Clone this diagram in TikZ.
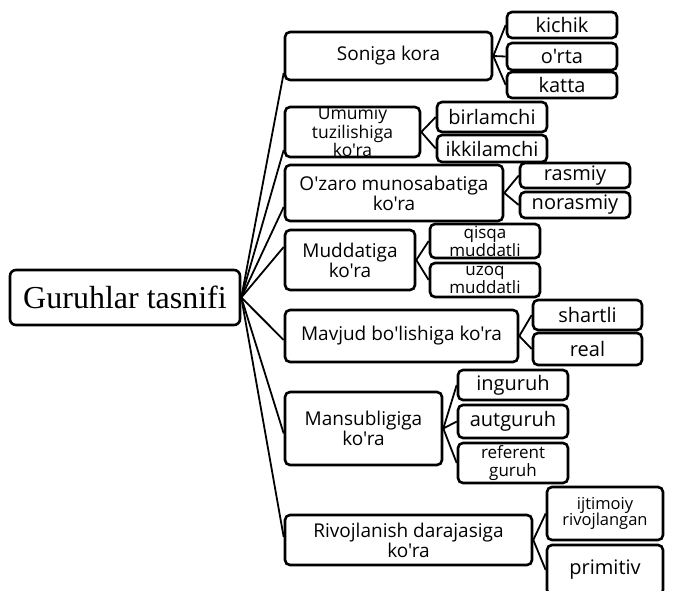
\documentclass[tikz,border=0pt]{standalone}
\usepackage{fontspec}
\setmainfont{Liberation Serif}
\newfontfamily\catfont{Open Sans}
\begin{document}
\begin{tikzpicture}[x=1pt,y=-1pt,
  bx/.style={draw, line width=2.6pt, rounded corners=5pt, inner sep=0pt, align=center,
    font=\catfont\fontsize{19}{18}\selectfont},
  kid/.style={font=\catfont\fontsize{20}{18}\selectfont},
  tight/.style={font=\catfont\fontsize{17}{16}\selectfont},
  rootbox/.style={draw, line width=2.6pt, rounded corners=6pt, inner sep=0pt,
    font=\fontsize{32}{36}\selectfont},
  ln/.style={line width=1.8pt}]
\useasboundingbox (0,0) rectangle (675,590);
\begin{scope}
\clip (0,0) rectangle (675,590);
% root
\node[rootbox, minimum width=230pt, minimum height=55pt] (root) at (125,297.5) {Guruhlar tasnifi};
% categories
\node[bx, font=\catfont\fontsize{17.5}{15.5}\selectfont, minimum width=135pt, minimum height=50pt] (s2) at (352.5,132) {Umumiy\\tuzilishiga\\ko'ra};
\node[bx, minimum width=207pt, minimum height=48pt] (s1) at (388.5,56) {Soniga kora};
\node[bx, minimum width=218pt, minimum height=56pt] (s3) at (394,193) {O'zaro munosabatiga\\ko'ra};
\node[bx, minimum width=130pt, minimum height=60pt] (s4) at (350,260) {Muddatiga\\ko'ra};
\node[bx, minimum width=233pt, minimum height=52pt] (s5) at (401.5,336) {Mavjud bo'lishiga ko'ra};
\node[bx, minimum width=157pt, minimum height=73pt] (s6) at (363.5,428.5) {Mansubligiga\\ko'ra};
\node[bx, minimum width=247pt, minimum height=50pt] (s7) at (408.5,540) {Rivojlanish darajasiga\\ko'ra};
% children
\node[bx, kid, minimum width=110pt, minimum height=26pt] (s1a) at (562,25) {kichik};
\node[bx, kid, minimum width=110pt, minimum height=27pt] (s1b) at (562,56.5) {o'rta};
\node[bx, kid, minimum width=110pt, minimum height=26pt] (s1c) at (562,85) {katta};
\node[bx, kid, minimum width=110pt, minimum height=30pt] (s2a) at (492,117) {birlamchi};
\node[bx, kid, minimum width=110pt, minimum height=27pt] (s2b) at (492,148.5) {ikkilamchi};
\node[bx, kid, minimum width=110pt, minimum height=25pt] (s3a) at (575,175.5) {rasmiy};
\node[bx, kid, minimum width=110pt, minimum height=26pt] (s3b) at (575,205) {norasmiy};
\node[bx, tight, minimum width=110pt, minimum height=34pt] (s4a) at (485,241) {qisqa\\muddatli};
\node[bx, tight, minimum width=110pt, minimum height=34pt] (s4b) at (485,280) {uzoq\\muddatli};
\node[bx, kid, minimum width=109pt, minimum height=30pt] (s5a) at (587.5,315) {shartli};
\node[bx, kid, minimum width=109pt, minimum height=32pt] (s5b) at (587.5,349) {real};
\node[bx, kid, minimum width=110pt, minimum height=30pt] (s6a) at (513,385) {inguruh};
\node[bx, kid, minimum width=110pt, minimum height=33pt] (s6b) at (513,421.5) {autguruh};
\node[bx, font=\catfont\fontsize{17}{17.5}\selectfont, minimum width=110pt, minimum height=40pt] (s6c) at (513,463) {referent\\guruh};
\node[bx, font=\catfont\fontsize{16.5}{16.5}\selectfont, minimum width=116pt, minimum height=53pt] (s7a) at (605,513.5) {ijtimoiy\\rivojlangan};
\node[bx, kid, minimum width=116pt, minimum height=50pt] (s7b) at (605,570) {primitiv};
% root connectors
\draw[ln] (root.east) -- ([yshift=-17pt]s1.west);
\draw[ln] (root.east) -- ([yshift=-18pt]s2.west);
\draw[ln] (root.east) -- ([yshift=-14pt]s3.west);
\draw[ln] (root.east) -- ([yshift=13pt]s4.west);
\draw[ln] (root.east) -- ([yshift=-4pt]s5.west);
\draw[ln] (root.east) -- ([yshift=-5pt]s6.west);
\draw[ln] (root.east) -- ([yshift=3pt]s7.west);
% child connectors
\foreach \c/\k in {s1/s1a,s1/s1b,s1/s1c,s2/s2a,s2/s2b,s3/s3a,s3/s3b,s4/s4a,s4/s4b,
  s5/s5a,s5/s5b,s6/s6a,s6/s6b,s6/s6c,s7/s7a,s7/s7b}
  \draw[ln] (\c.east) -- (\k.west);
\end{scope}
\end{tikzpicture}
\end{document}
